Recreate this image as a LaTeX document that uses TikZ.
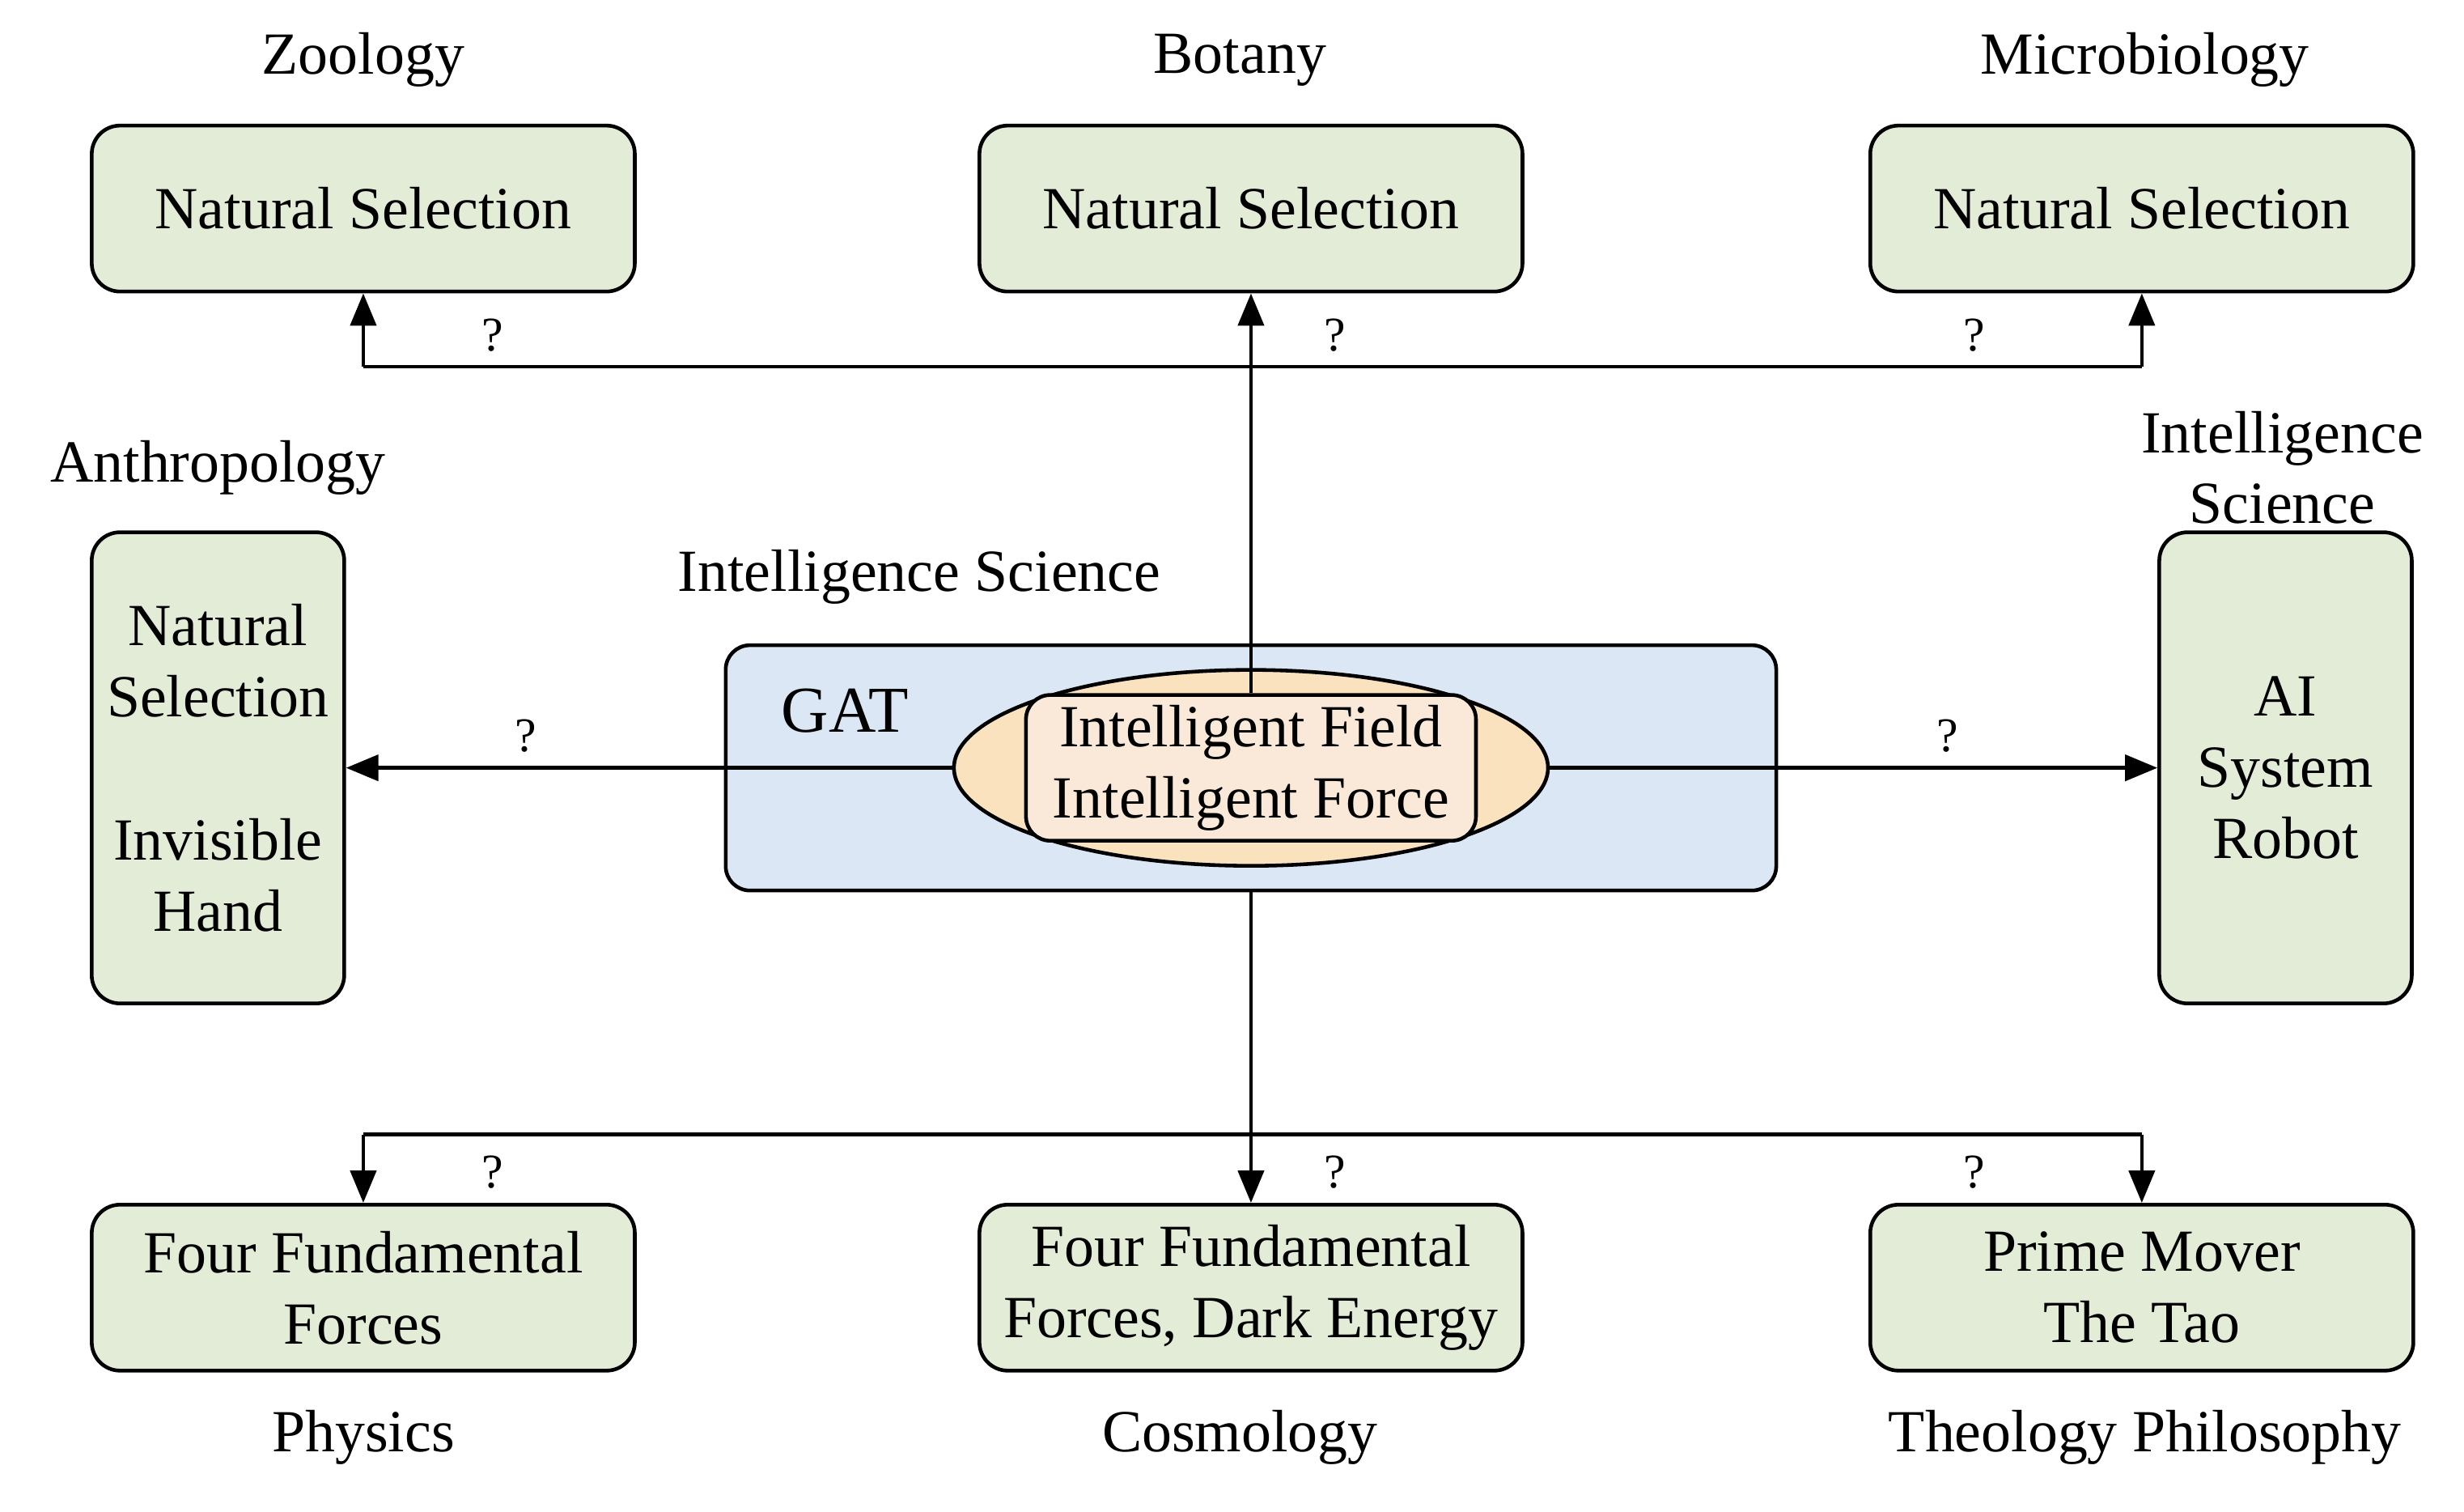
\documentclass[tikz,border=0pt]{standalone}
\usepackage{fontspec}
\setmainfont{Liberation Serif}
\usetikzlibrary{shapes.geometric,arrows.meta}
\definecolor{gfill}{RGB}{227,236,214}
\definecolor{bfill}{RGB}{220,231,246}
\definecolor{efill}{RGB}{251,226,190}
\definecolor{ifill}{RGB}{250,233,216}
\begin{document}
\begin{tikzpicture}[x=0.01952cm,y=-0.01952cm,
 box/.style={draw,line width=1.3pt,rounded corners=0.35cm,fill=gfill,align=center,font=\fontsize{21}{25}\selectfont,inner sep=0pt},
 wide/.style={box,minimum width=6.71cm,minimum height=2.05cm},
 tall/.style={box,minimum width=3.12cm,minimum height=5.82cm},
 lab/.style={font=\fontsize{21}{25}\selectfont,align=center},
 q/.style={font=\fontsize{17}{20}\selectfont},
 con/.style={line width=1.3pt},
 arr/.style={con,-{Triangle[length=0.4cm,width=0.32cm]}}]
\useasboundingbox (0,0) rectangle (1560,957);
\node[wide] (zoo) at (230,132) {Natural Selection};
\node[wide] (bot) at (792,132) {Natural Selection};
\node[wide] (mic) at (1356,132) {Natural Selection};
\node[tall] (ant) at (138,486) {Natural\\Selection\\[1.2em]Invisible\\Hand};
\node[tall] (ais) at (1447,486) {AI\\System\\Robot};
\node[wide] (phy) at (230,815) {Four Fundamental\\Forces};
\node[wide] (cos) at (792,815) {Four Fundamental\\Forces, Dark Energy};
\node[wide] (the) at (1356,815) {Prime Mover\\The Tao};
\node[draw,line width=1.3pt,rounded corners=0.3cm,fill=bfill,minimum width=12.98cm,minimum height=3.03cm] (gat) at (792,486) {};
\node[draw,ellipse,line width=1.3pt,fill=efill,minimum width=7.34cm,minimum height=2.42cm] (ell) at (792,486) {};
\node[box,fill=ifill,rounded corners=0.3cm,minimum width=5.56cm,minimum height=1.8cm] (ifd) at (792,486) {Intelligent Field\\Intelligent Force};
\node[lab] (gatl) at (535,450) {\fontsize{23}{27}\selectfont GAT};
\node[lab] (l1) at (230,38) {Zoology};
\node[lab] (l2) at (785,38) {Botany};
\node[lab] (l3) at (1358,38) {Microbiology};
\node[lab] (l4) at (138,296) {Anthropology};
\node[lab] (l5) at (1445,296) {Intelligence\\Science};
\node[lab] (l6) at (582,365) {Intelligence Science};
\node[lab] (l7) at (230,910) {Physics};
\node[lab] (l8) at (785,910) {Cosmology};
\node[lab] (l9) at (1358,910) {Theology Philosophy};
\coordinate (tl) at (230,232); \coordinate (tr) at (1356,232);
\coordinate (bl) at (230,718); \coordinate (br) at (1356,718);
\draw[arr] (ifd.north) -- (bot.south);
\draw[con] (tl) -- (tr);
\draw[arr] (tl) -- (zoo.south);
\draw[arr] (tr) -- (mic.south);
\draw[arr] (gat.south) -- (cos.north);
\draw[con] (bl) -- (br);
\draw[arr] (bl) -- (phy.north);
\draw[arr] (br) -- (the.north);
\draw[arr] (ell.west) -- (ant.east);
\draw[arr] (ell.east) -- (ais.west);
\node[q] (q1) at (312,212) {?};
\node[q] (q2) at (845,212) {?};
\node[q] (q3) at (1250,212) {?};
\node[q] (q4) at (333,466) {?};
\node[q] (q5) at (1233,466) {?};
\node[q] (q6) at (312,742) {?};
\node[q] (q7) at (845,742) {?};
\node[q] (q8) at (1250,742) {?};
\end{tikzpicture}
\end{document}
